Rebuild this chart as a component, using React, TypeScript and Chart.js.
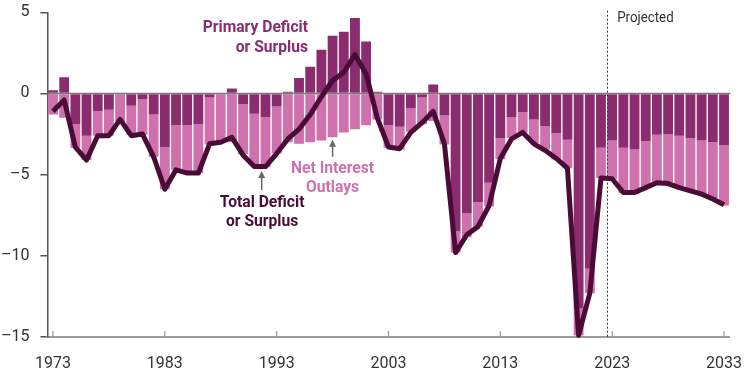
import React, { useEffect, useRef } from "react";
import { Chart, registerables } from "chart.js";

Chart.register(...registerables);

const years: string[] = [
  "1973","1974","1975","1976","1977","1978","1979","1980","1981","1982",
  "1983","1984","1985","1986","1987","1988","1989","1990","1991","1992",
  "1993","1994","1995","1996","1997","1998","1999","2000","2001","2002",
  "2003","2004","2005","2006","2007","2008","2009","2010","2011","2012",
  "2013","2014","2015","2016","2017","2018","2019","2020","2021","2022",
  "2023","2024","2025","2026","2027","2028","2029","2030","2031","2032","2033",
];

const labeledYears: string[] = ["1973", "1983", "1993", "2003", "2013", "2023", "2033"];

// Primary deficit (-) or surplus (+), percent of GDP
const primary: number[] = [
  0.2, 1.0, -1.9, -2.6, -1.1, -1.0, 0.0, -0.75, -0.35, -1.3,
  -3.3, -1.95, -1.95, -1.9, -0.25, 0.0, 0.3, -0.65, -1.25, -1.45,
  -0.8, 0.1, 0.95, 1.65, 2.7, 3.55, 3.8, 4.65, 3.2, 0.1,
  -1.95, -2.05, -0.9, -0.25, 0.55, -1.35, -8.5, -7.4, -6.7, -5.5,
  -2.75, -1.45, -1.15, -1.6, -2.0, -2.45, -2.85, -13.25, -10.8, -3.35,
  -2.9, -3.35, -3.45, -2.95, -2.55, -2.5, -2.6, -2.75, -2.9, -3.0, -3.2,
];

// Net interest outlays, percent of GDP
const interest: number[] = [
  -1.3, -1.5, -1.45, -1.5, -1.5, -1.6, -1.7, -1.8, -2.2, -2.6,
  -2.6, -2.75, -3.0, -3.0, -2.9, -3.0, -3.0, -3.1, -3.2, -3.1,
  -2.9, -3.0, -3.1, -3.0, -2.9, -2.7, -2.4, -2.2, -1.95, -1.6,
  -1.4, -1.4, -1.45, -1.65, -1.7, -1.8, -1.3, -1.45, -1.5, -1.45,
  -1.3, -1.3, -1.25, -1.45, -1.45, -1.6, -1.75, -1.65, -1.5, -1.85,
  -2.35, -2.8, -2.75, -2.8, -2.9, -3.0, -3.1, -3.2, -3.3, -3.45, -3.7,
];

// Total deficit (-) or surplus (+), percent of GDP
const total: number[] = [
  -1.1, -0.4, -3.3, -4.1, -2.6, -2.6, -1.6, -2.6, -2.5, -3.9,
  -5.9, -4.7, -4.9, -4.9, -3.1, -3.0, -2.7, -3.8, -4.5, -4.5,
  -3.7, -2.8, -2.2, -1.3, -0.2, 0.8, 1.3, 2.4, 1.2, -1.5,
  -3.3, -3.4, -2.4, -1.8, -1.1, -3.1, -9.8, -8.7, -8.2, -6.9,
  -4.0, -2.8, -2.4, -3.1, -3.5, -4.0, -4.6, -14.9, -12.3, -5.2,
  -5.25, -6.1, -6.1, -5.8, -5.5, -5.55, -5.8, -6.0, -6.2, -6.5, -6.85,
];

const yTicks: number[] = [5, 0, -5, -10, -15];

const COLOR_PRIMARY = "#8a2c6e";
const COLOR_INTEREST = "#cf71ad";
const COLOR_TOTAL = "#4a0b37";
const FONT = 'Roboto, "Liberation Sans", sans-serif';

function condensedText(ctx: any, text: string, x: number, y: number, sx: number) {
  ctx.save();
  ctx.translate(x, y);
  ctx.scale(sx, 1);
  ctx.fillText(text, 0, 0);
  ctx.restore();
}

const overlayPlugin = {
  id: "overlay",
  beforeDatasetDraw(chart: any, args: any) {
    if (args.index !== 2) return;
    const { ctx, chartArea, scales } = chart;
    const y0 = scales.y.getPixelForValue(0);
    ctx.save();
    ctx.strokeStyle = "#7a7a7a";
    ctx.lineWidth = 1.5;
    ctx.beginPath();
    ctx.moveTo(chartArea.left, y0);
    ctx.lineTo(chartArea.right + 1, y0);
    ctx.stroke();
    ctx.restore();
  },
  afterDraw(chart: any) {
    const { ctx, chartArea, scales } = chart;
    const xs = scales.x;
    const ys = scales.y;
    ctx.save();
    // x tick marks (upward)
    ctx.strokeStyle = "#999";
    ctx.lineWidth = 1.2;
    labeledYears.forEach((yr) => {
      const px = xs.getPixelForValue(years.indexOf(yr));
      ctx.beginPath();
      ctx.moveTo(px, chartArea.bottom);
      ctx.lineTo(px, chartArea.bottom - 6);
      ctx.stroke();
    });
    // projection divider
    const dx = xs.getPixelForValue(years.indexOf("2022") + 0.5);
    ctx.strokeStyle = "#333";
    ctx.lineWidth = 1;
    ctx.setLineDash([2, 2]);
    ctx.beginPath();
    ctx.moveTo(Math.round(dx) + 0.5, ys.getPixelForValue(5.1));
    ctx.lineTo(Math.round(dx) + 0.5, chartArea.bottom);
    ctx.stroke();
    ctx.setLineDash([]);

    ctx.fillStyle = "#333";
    ctx.font = `14px ${FONT}`;
    ctx.textAlign = "left";
    ctx.textBaseline = "middle";
    condensedText(ctx, "Projected", xs.getPixelForValue(50.45), ys.getPixelForValue(4.6), 0.95);

    // arrows
    const arrow = (xi: number, yFrom: number, yTo: number) => {
      const px = xs.getPixelForValue(xi);
      const p1 = ys.getPixelForValue(yFrom);
      const p2 = ys.getPixelForValue(yTo);
      ctx.strokeStyle = "#666";
      ctx.fillStyle = "#666";
      ctx.lineWidth = 1.5;
      ctx.beginPath();
      ctx.moveTo(px, p1);
      ctx.lineTo(px, p2 + 5);
      ctx.stroke();
      ctx.beginPath();
      ctx.moveTo(px, p2);
      ctx.lineTo(px - 3.5, p2 + 7);
      ctx.lineTo(px + 3.5, p2 + 7);
      ctx.closePath();
      ctx.fill();
    };
    arrow(25, -3.9, -2.85);
    arrow(18.66, -5.94, -4.77);

    const SX = 0.92;
    ctx.font = `bold 17px ${FONT}`;
    ctx.textBaseline = "middle";
    ctx.fillStyle = COLOR_PRIMARY;
    ctx.textAlign = "right";
    condensedText(ctx, "Primary Deficit", xs.getPixelForValue(22.8), ys.getPixelForValue(4.02), SX);
    condensedText(ctx, "or Surplus", xs.getPixelForValue(22.8), ys.getPixelForValue(2.79), SX);

    ctx.fillStyle = COLOR_INTEREST;
    ctx.textAlign = "center";
    condensedText(ctx, "Net Interest", xs.getPixelForValue(25), ys.getPixelForValue(-4.64), SX);
    condensedText(ctx, "Outlays", xs.getPixelForValue(25), ys.getPixelForValue(-5.82), SX);

    ctx.fillStyle = COLOR_TOTAL;
    condensedText(ctx, "Total Deficit", xs.getPixelForValue(18.7), ys.getPixelForValue(-6.75), SX);
    condensedText(ctx, "or Surplus", xs.getPixelForValue(18.7), ys.getPixelForValue(-7.93), SX);
    ctx.restore();
  },
};

export default function App() {
  const ref = useRef<HTMLCanvasElement | null>(null);

  useEffect(() => {
    document.body.style.margin = "0";
    const canvas = ref.current;
    if (!canvas) return;
    const chart = new Chart(canvas, {
      type: "bar",
      data: {
        labels: years,
        datasets: [
          {
            type: "bar",
            label: "Primary Deficit or Surplus",
            data: primary,
            backgroundColor: COLOR_PRIMARY,
            stack: "bars",
            order: 1,
            barPercentage: 0.88,
            categoryPercentage: 1,
          },
          {
            type: "bar",
            label: "Net Interest Outlays",
            data: interest,
            backgroundColor: COLOR_INTEREST,
            stack: "bars",
            order: 2,
            barPercentage: 0.88,
            categoryPercentage: 1,
          },
          {
            type: "line",
            label: "Total Deficit or Surplus",
            data: total,
            borderColor: COLOR_TOTAL,
            borderWidth: 5,
            pointRadius: 0,
            tension: 0,
            stack: "line",
            order: 0,
            borderJoinStyle: "round",
            borderCapStyle: "butt",
            clip: false,
          } as any,
        ],
      },
      options: {
        responsive: false,
        animation: false,
        devicePixelRatio: 1,
        layout: { padding: { top: 12.3, right: 20.4, left: 0, bottom: 0 } },
        plugins: { legend: { display: false }, tooltip: { enabled: false } },
        scales: {
          x: {
            type: "category",
            stacked: true,
            offset: true,
            grid: { display: false, drawTicks: false, offset: false },
            border: { display: true, color: "#9a9a9a", width: 2 },
            ticks: {
              autoSkip: false,
              maxRotation: 0,
              padding: 17.5,
              color: "#333",
              font: { family: FONT, size: 16 },
              callback: function (this: any, v: any) {
                const lbl = years[v as number];
                return labeledYears.includes(lbl) ? lbl : null;
              },
            },
            afterFit: (s: any) => {
              s.height = 38;
              s.paddingLeft = 0;
              s.paddingRight = 0;
            },
          },
          y: {
            stacked: true,
            min: -15,
            max: 5,
            afterBuildTicks: (s: any) => {
              s.ticks = yTicks.map((v) => ({ value: v }));
            },
            grid: { drawOnChartArea: false, drawTicks: true, tickLength: 7, color: "#555", lineWidth: 1.5 },
            border: { display: true, color: "#555", width: 1.5 },
            ticks: {
              padding: 11,
              color: "#333",
              font: { family: FONT, size: 16 },
              callback: (v: any) => (v < 0 ? "\u2013" + Math.abs(v) : String(v)),
            },
            afterFit: (s: any) => {
              s.width = 47.4;
              s.paddingTop = 0;
              s.paddingBottom = 0;
            },
          },
        },
      },
      plugins: [overlayPlugin],
    });
    return () => chart.destroy();
  }, []);

  return (
    <div style={{ position: "absolute", left: 0, top: 0, width: 750, height: 375 }}>
      <canvas ref={ref} width={750} height={375} style={{ width: 750, height: 375 }} />
    </div>
  );
}
